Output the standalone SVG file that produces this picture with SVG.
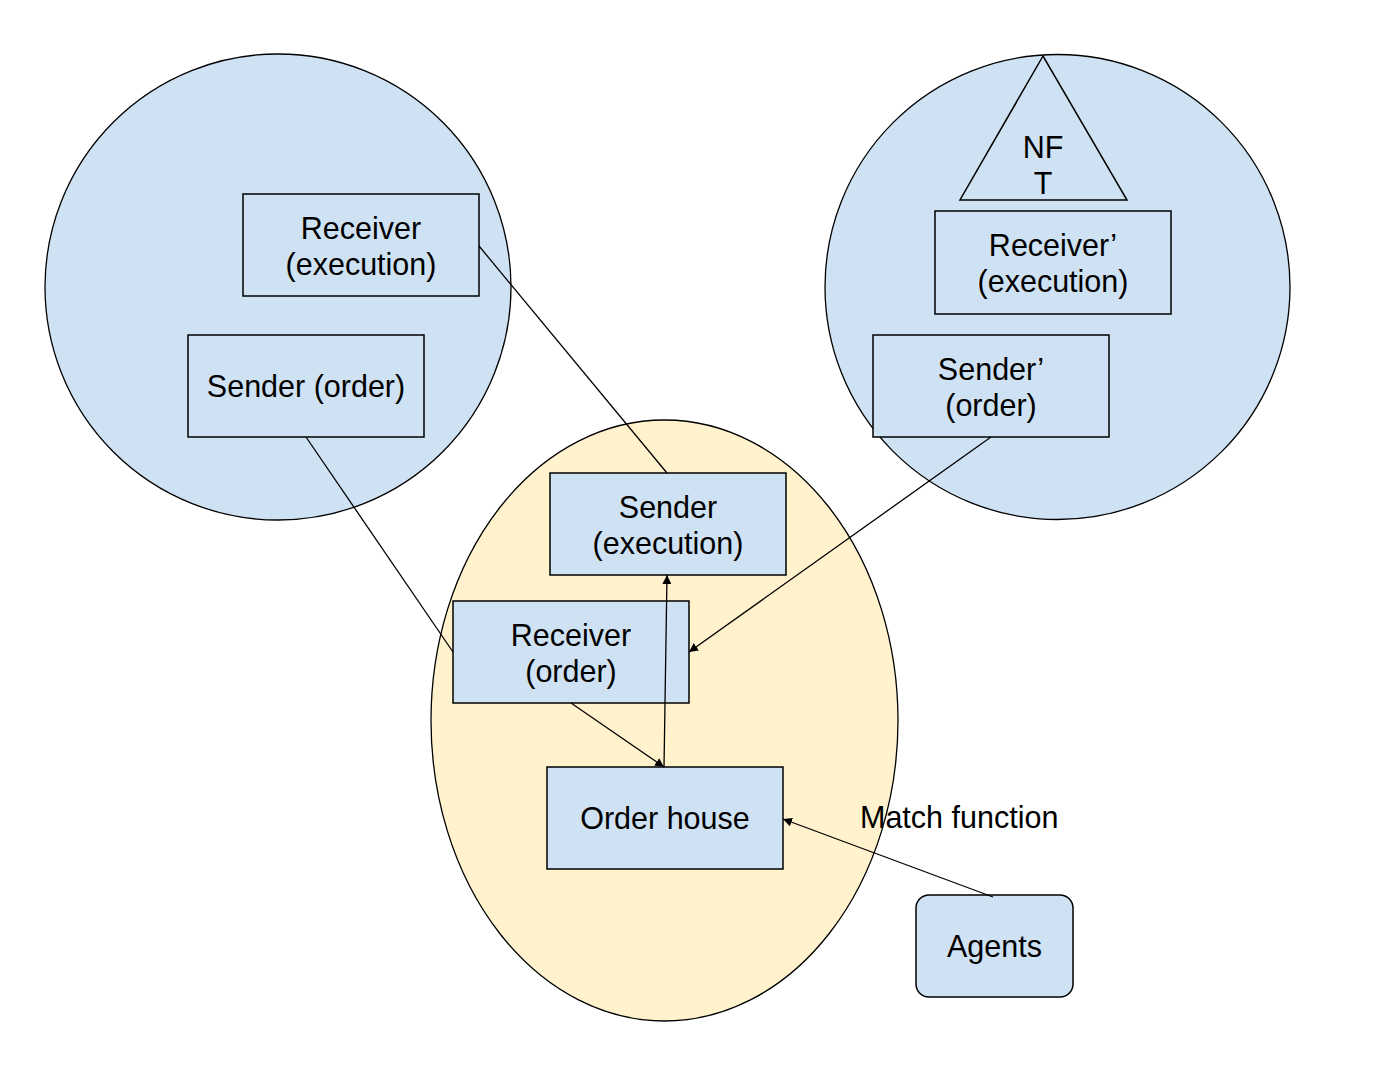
<svg xmlns="http://www.w3.org/2000/svg" width="1376" height="1076" viewBox="0 0 1376 1076">
<style>
.bg{fill:#cfe2f3;stroke:#000;stroke-width:1.3}
.yl{fill:#fff2cc;stroke:#000;stroke-width:1.3}
.box{fill:#cfe2f3;stroke:#000;stroke-width:1.5}
.t{font-family:"Liberation Sans",Arial,sans-serif;font-size:30.5px;fill:#000;text-anchor:middle}
.tl{font-family:"Liberation Sans",Arial,sans-serif;font-size:30.5px;fill:#000}
.c{stroke:#000;stroke-width:1.3;fill:none}
</style>
<defs>
<marker id="ah" viewBox="0 0 10 10" refX="10" refY="5" markerWidth="9" markerHeight="9" markerUnits="userSpaceOnUse" orient="auto">
<path d="M0,0 L10,5 L0,10 z" fill="#000"/>
</marker>
</defs>
<rect width="1376" height="1076" fill="#fff"/>
<g id="region-left"><circle class="bg" cx="278" cy="287" r="233"/></g>
<g id="region-right"><circle class="bg" cx="1057.5" cy="287" r="232.5"/></g>
<g id="region-center"><ellipse class="yl" cx="664.5" cy="720.5" rx="233.5" ry="300.5"/></g>
<g id="nft"><polygon class="box" points="1043,56 960,200 1127,200"/><text class="t" x="1043" y="158">NF</text><text class="t" x="1043" y="194">T</text></g>
<g id="receiver-execution"><rect class="box" x="243" y="194" width="236" height="102"/><text class="t" x="361" y="239">Receiver</text><text class="t" x="361" y="275">(execution)</text></g>
<g id="sender-order"><rect class="box" x="188" y="335" width="236" height="102"/><text class="t" x="306" y="397">Sender (order)</text></g>
<g id="receiver-execution-2"><rect class="box" x="935" y="211" width="236" height="103"/><text class="t" x="1053" y="256">Receiver’</text><text class="t" x="1053" y="292">(execution)</text></g>
<g id="sender-order-2"><rect class="box" x="873" y="335" width="236" height="102"/><text class="t" x="991" y="380">Sender’</text><text class="t" x="991" y="416">(order)</text></g>
<g id="sender-execution"><rect class="box" x="550" y="473" width="236" height="102"/><text class="t" x="668" y="518">Sender</text><text class="t" x="668" y="554">(execution)</text></g>
<g id="receiver-order"><rect class="box" x="453" y="601" width="236" height="102"/><text class="t" x="571" y="646">Receiver</text><text class="t" x="571" y="682">(order)</text></g>
<g id="order-house"><rect class="box" x="547" y="767" width="236" height="102"/><text class="t" x="665" y="829">Order house</text></g>
<g id="agents"><rect class="box" x="916" y="895" width="157" height="102" rx="13"/><text class="t" x="994.5" y="957">Agents</text></g>
<g id="connectors">
<line class="c" x1="479" y1="246" x2="667" y2="473"/>
<line class="c" x1="306" y1="437" x2="453" y2="652"/>
<line class="c" x1="991" y1="437" x2="689" y2="652" marker-end="url(#ah)"/>
<line class="c" x1="571" y1="703" x2="664" y2="767" marker-end="url(#ah)"/>
<line class="c" x1="664" y1="767" x2="667" y2="575" marker-end="url(#ah)"/>
<line class="c" x1="993" y1="897" x2="783" y2="819" marker-end="url(#ah)"/>
</g>
<text class="tl" x="860" y="828">Match function</text>
</svg>
